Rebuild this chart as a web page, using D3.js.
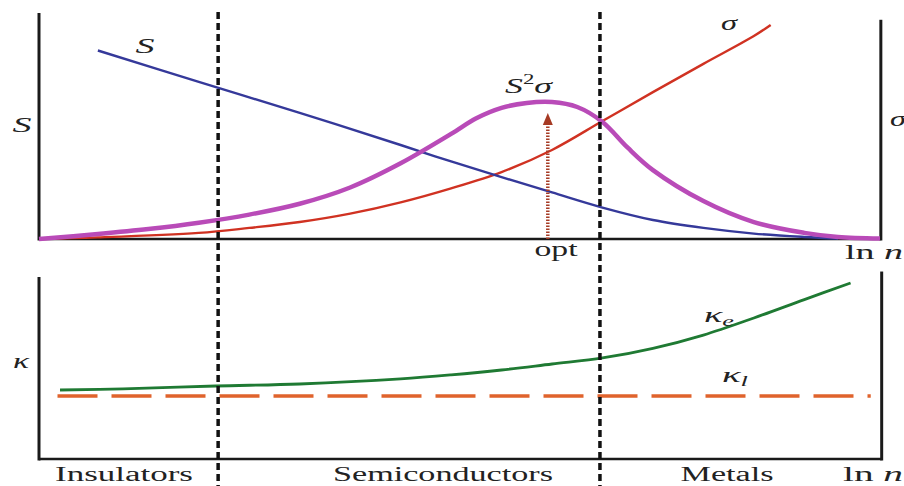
<!DOCTYPE html>
<html>
<head>
<meta charset="utf-8">
<script src="https://cdn.jsdelivr.net/npm/d3@7"></script>
<style>
  body { margin: 0; background: #fff; }
  text { font-family: "Liberation Serif", "DejaVu Serif", serif; fill: #222; }
  .math { font-style: italic; }
</style>
</head>
<body>
<div id="chart"></div>
<script>
var W = 904, H = 486;

// ln n, arbitrary units 0..100
var sX      = [7, 19, 31, 43, 49, 55, 61, 67, 73, 79, 85, 91, 95];
var sVal    = [83.4, 69.5, 55.8, 41.6, 34.3, 27.4, 20.6, 13.9, 8.4, 4.9, 2.4, 0.9, 0.2];

var sigX    = [0, 7, 19, 25, 31, 37, 43, 49, 55, 61, 67, 73, 79, 85, 87];
var sigVal  = [0, 0.7, 2.7, 4.9, 7.5, 11.2, 16.2, 22.4, 29.6, 39.4, 52.2, 65, 77.5, 89.8, 94.7];

var pfX     = [0, 7, 13, 19, 25, 31, 37, 43, 49, 52, 55, 58, 61, 64, 67, 70, 73, 79, 85, 91, 95, 100];
var pfVal   = [0, 2.2, 4.4, 7.2, 10.8, 15.6, 22.8, 33.5, 46.5, 53.4, 58, 60.2, 60.6, 58.4, 51.8, 40.4, 30.5, 16.8, 7.5, 2.7, 0.9, 0.2];

var keX     = [2.5, 10, 21, 31, 43, 49, 55, 61, 67, 73, 79, 85, 91, 96.5];
var keVal   = [37.9, 38.5, 40.1, 41.2, 44, 46.2, 48.9, 52.2, 55.5, 60.8, 68.1, 77.5, 87.6, 96.7];

var klX     = [2.2, 98.9];
var klVal   = [34.6, 34.6];

var boundaries = [21.3, 66.7];   // insulator | semiconductor | metal
var optX = 60.5, optVal = 55.8;

var regions = ["Insulators", "Semiconductors", "Metals"];

var svg = d3.select("#chart").append("svg")
  .attr("width", W).attr("height", H);

svg.append("rect").attr("width", W).attr("height", H).attr("fill", "#fff");

var x = d3.scaleLinear().domain([0, 100]).range([39, 880]);
var yTop = d3.scaleLinear().domain([0, 100]).range([239, 13]);
var yBot = d3.scaleLinear().domain([0, 100]).range([459, 277]);

function zip(xs, ys) { return xs.map(function(d, i) { return [d, ys[i]]; }); }

function curve(y) {
  return d3.line()
    .x(function(d) { return x(d[0]); })
    .y(function(d) { return y(d[1]); })
    .curve(d3.curveCatmullRom.alpha(0.5));
}

// axes frames
var axisColor = "#1a1a1a";
function vline(xp, y0, y1, w) {
  svg.append("line").attr("x1", xp).attr("x2", xp).attr("y1", y0).attr("y2", y1)
    .attr("stroke", axisColor).attr("stroke-width", w);
}
function hline(x0, x1, yp, w) {
  svg.append("line").attr("x1", x0).attr("x2", x1).attr("y1", yp).attr("y2", yp)
    .attr("stroke", axisColor).attr("stroke-width", w);
}
vline(x(0), yTop(100), yTop(0) + 1.5, 3);
vline(x(100.1), yTop(97), yTop(0) + 1.5, 3);
hline(x(0), x(100.1), yTop(0), 2.5);

vline(x(0), yBot(100), yBot(0) + 1.5, 3);
vline(x(100.2), yBot(103), yBot(0) + 1.5, 3);
hline(x(0), x(100.2), yBot(0), 2.5);

// top curves
svg.append("path").datum(zip(sigX, sigVal))
  .attr("fill", "none").attr("stroke", "#d03222").attr("stroke-width", 2.4)
  .attr("d", curve(yTop));

svg.append("path").datum(zip(sX, sVal))
  .attr("fill", "none").attr("stroke", "#35399a").attr("stroke-width", 2.4)
  .attr("d", curve(yTop));

svg.append("path").datum(zip(pfX, pfVal))
  .attr("fill", "none").attr("stroke", "#b94bb8").attr("stroke-width", 4.5)
  .attr("d", curve(yTop));

// optimum arrow
svg.append("line")
  .attr("x1", x(optX)).attr("x2", x(optX))
  .attr("y1", yTop(0)).attr("y2", yTop(optVal) + 10)
  .attr("stroke", "#a63a24").attr("stroke-width", 3.5)
  .attr("stroke-dasharray", "1.5,1.5");

svg.append("path")
  .attr("d", "M" + (x(optX) - 5) + "," + (yTop(optVal) + 12) + " L" + x(optX) + "," + yTop(optVal) +
             " L" + (x(optX) + 5) + "," + (yTop(optVal) + 12) + " Z")
  .attr("fill", "#a63a24");

// bottom curves
svg.append("path").datum(zip(klX, klVal))
  .attr("fill", "none").attr("stroke", "#e0632c").attr("stroke-width", 3.5)
  .attr("stroke-dasharray", "40,14")
  .attr("d", curve(yBot));

svg.append("path").datum(zip(keX, keVal))
  .attr("fill", "none").attr("stroke", "#1f7a33").attr("stroke-width", 2.8)
  .attr("d", curve(yBot));

// regime boundaries
boundaries.forEach(function(b) {
  svg.append("line")
    .attr("x1", x(b)).attr("x2", x(b)).attr("y1", 12).attr("y2", H)
    .attr("stroke", "#111").attr("stroke-width", 3.5)
    .attr("stroke-dasharray", "7,4");
});

// labels
function label(t, xp, yp, size, cls, len) {
  var el = svg.append("text").attr("x", xp).attr("y", yp)
    .attr("font-size", size).attr("text-anchor", "middle");
  if (cls) el.attr("class", cls);
  if (len) el.attr("textLength", len).attr("lengthAdjust", "spacingAndGlyphs");
  el.text(t);
  return el;
}

label("S", 145, 53, 22, "math", 19);
label("S", 22, 132, 22, "math", 19);
label("σ", 729, 30, 22, "math", 16);
label("σ", 898, 126, 22, "math", 16);

var s2 = svg.append("text").attr("x", 505).attr("y", 93).attr("font-size", 22)
  .attr("textLength", 47).attr("lengthAdjust", "spacingAndGlyphs");
s2.append("tspan").attr("class", "math").text("S");
s2.append("tspan").attr("font-size", 14).attr("dy", -9).text("2");
s2.append("tspan").attr("class", "math").attr("font-size", 22).attr("dy", 9).text("σ");

label("opt", 556, 256, 20, null, 43);

function lnN(xp, yp) {
  var t = svg.append("text").attr("x", xp).attr("y", yp).attr("font-size", 20);
  t.append("tspan").text("ln ");
  t.append("tspan").attr("class", "math").text("n");
  return t;
}
lnN(845, 259).attr("textLength", 58).attr("lengthAdjust", "spacingAndGlyphs");
lnN(843, 481).attr("textLength", 60).attr("lengthAdjust", "spacingAndGlyphs");

label("κ", 21, 368, 22, "math", 16);

var ke = svg.append("text").attr("x", 704).attr("y", 322).attr("font-size", 22).attr("class", "math")
  .attr("textLength", 30).attr("lengthAdjust", "spacingAndGlyphs");
ke.append("tspan").text("κ");
ke.append("tspan").attr("font-size", 15).attr("dy", 4).text("e");

var kl = svg.append("text").attr("x", 722).attr("y", 382).attr("font-size", 22).attr("class", "math")
  .attr("textLength", 26).attr("lengthAdjust", "spacingAndGlyphs");
kl.append("tspan").text("κ");
kl.append("tspan").attr("font-size", 15).attr("dy", 4).text("l");

var regionCenters = [124, 443, 727];
var regionWidths = [138, 220, 93];
regions.forEach(function(r, i) {
  label(r, regionCenters[i], 481, 20, null, regionWidths[i]);
});
</script>
</body>
</html>
